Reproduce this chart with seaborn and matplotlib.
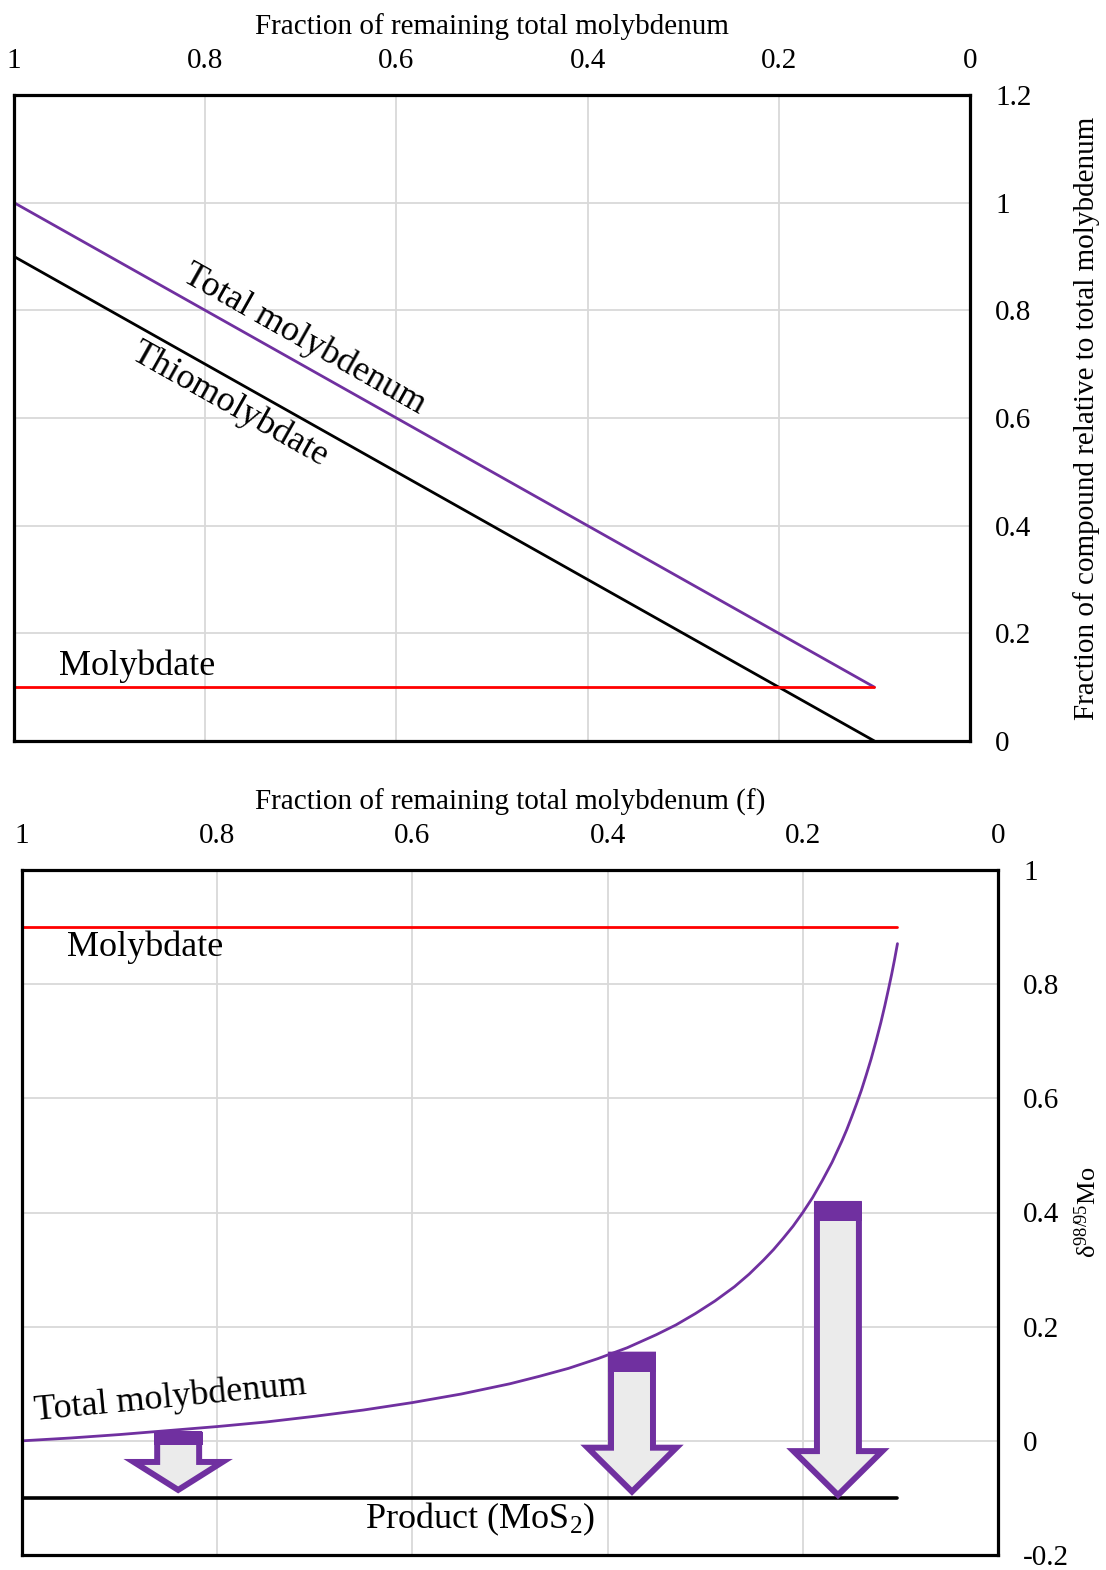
import matplotlib
matplotlib.use("Agg")
import matplotlib.pyplot as plt
import seaborn as sns
from matplotlib.patches import FancyArrow, Rectangle

# ---- top panel: fraction of compound relative to total Mo ----
f_top = [1.0, 0.1]
total_top = [1.0, 0.1]
thio_top = [0.9, 0.0]
molybdate_top = [0.1, 0.1]

# ---- bottom panel: d98/95Mo vs remaining fraction ----
f_curve = [1.0, 0.95, 0.9, 0.85, 0.8, 0.75, 0.7, 0.65, 0.6, 0.55, 0.5, 0.47, 0.44,
           0.41, 0.38, 0.35, 0.33, 0.31, 0.29, 0.27, 0.255, 0.24, 0.23, 0.22, 0.21,
           0.2, 0.19, 0.18, 0.17, 0.16, 0.155, 0.15, 0.145, 0.14, 0.135, 0.13,
           0.125, 0.12, 0.116, 0.112, 0.109, 0.106, 0.103]
delta_total = [0.0, 0.005, 0.011, 0.018, 0.025, 0.033, 0.043, 0.054, 0.067, 0.082,
               0.100, 0.113, 0.127, 0.144, 0.163, 0.186, 0.203, 0.223, 0.245, 0.270,
               0.292, 0.317, 0.335, 0.355, 0.376, 0.400, 0.426, 0.456, 0.488, 0.525,
               0.545, 0.567, 0.590, 0.614, 0.641, 0.669, 0.700, 0.733, 0.762, 0.793,
               0.817, 0.843, 0.871]
f_flat = [1.0, 0.103]
delta_molybdate = [0.9, 0.9]
delta_product = [-0.1, -0.1]

# MoS2 product arrows
arrow_f = [0.84, 0.375, 0.164]
arrow_top = [0.012, 0.151, 0.415]
arrow_tip = [-0.086, -0.089, -0.095]

x_ticks = [1, 0.8, 0.6, 0.4, 0.2, 0]
x_tick_labels = ["1", "0.8", "0.6", "0.4", "0.2", "0"]
top_y_ticks = [0, 0.2, 0.4, 0.6, 0.8, 1.0, 1.2]
top_y_labels = ["0", "0.2", "0.4", "0.6", "0.8", "1", "1.2"]
bot_y_ticks = [-0.2, 0, 0.2, 0.4, 0.6, 0.8, 1.0]
bot_y_labels = ["-0.2", "0", "0.2", "0.4", "0.6", "0.8", "1"]

purple = "#7030A0"
red = "#FF0000"

sns.set_theme(style="whitegrid")
plt.rcParams["font.family"] = ["Liberation Serif", "DejaVu Serif"]
plt.rcParams["text.color"] = "black"
plt.rcParams["mathtext.fontset"] = "custom"
plt.rcParams["mathtext.rm"] = "Liberation Serif"
plt.rcParams["mathtext.it"] = "Liberation Serif:italic"

fig = plt.figure(figsize=(11.06, 15.70), dpi=100)
ax1 = fig.add_axes([14 / 1106, 1 - 741 / 1570, 956 / 1106, 646 / 1570])
ax2 = fig.add_axes([22 / 1106, 15 / 1570, 976 / 1106, 685 / 1570])


def style_axes(ax, yticks, ylabels, xlabel, ylabel, ylim, ypad, ysize):
    ax.set_xlim(1, 0)
    ax.set_ylim(*ylim)
    ax.set_xticks(x_ticks)
    ax.set_xticklabels(x_tick_labels)
    ax.set_yticks(yticks)
    ax.set_yticklabels(ylabels)
    ax.xaxis.tick_top()
    ax.xaxis.set_label_position("top")
    ax.yaxis.tick_right()
    ax.yaxis.set_label_position("right")
    ax.tick_params(length=0, labelsize=21, colors="black")
    ax.tick_params(axis="x", pad=15)
    ax.tick_params(axis="y", pad=18)
    ax.set_xlabel(xlabel, fontsize=21, labelpad=10, color="black")
    ax.set_ylabel(ylabel, fontsize=ysize, labelpad=ypad, color="black")
    ax.grid(True, color="#d9d9d9", lw=1.3)
    for s in ax.spines.values():
        s.set_color("black")
        s.set_linewidth(2.3)
    ax.set_facecolor("white")


# top panel
sns.lineplot(x=f_top, y=total_top, ax=ax1, color=purple, lw=2)
sns.lineplot(x=f_top, y=thio_top, ax=ax1, color="black", lw=2)
sns.lineplot(x=f_top, y=molybdate_top, ax=ax1, color=red, lw=2)
style_axes(ax1, top_y_ticks, top_y_labels,
           "Fraction of remaining total molybdenum",
           "Fraction of compound relative to total molybdenum", (0, 1.2), 30, 21)
ax1.text(0.696, 0.745, "Total molybdenum", fontsize=26, rotation=-29.4,
         ha="center", va="center", rotation_mode="anchor")
ax1.text(0.774, 0.625, "Thiomolybdate", fontsize=26, rotation=-29.4,
         ha="center", va="center", rotation_mode="anchor")
ax1.text(0.871, 0.139, "Molybdate", fontsize=26, ha="center", va="center")

# bottom panel
sns.lineplot(x=f_curve, y=delta_total, ax=ax2, color=purple, lw=2, sort=False)
sns.lineplot(x=f_flat, y=delta_molybdate, ax=ax2, color=red, lw=2)
sns.lineplot(x=f_flat, y=delta_product, ax=ax2, color="black", lw=2.6)
style_axes(ax2, bot_y_ticks, bot_y_labels,
           "Fraction of remaining total molybdenum (f)",
           "δ$^{98/95}$Mo", (-0.2, 1.0), 4, 19)

for f, top, tip in zip(arrow_f, arrow_top, arrow_tip):
    length = top - tip
    head = min(0.077, 0.5 * length)
    ax2.add_patch(FancyArrow(f, top, 0, tip - top, width=0.043, head_width=0.091,
                             head_length=head, length_includes_head=True,
                             fc="#ebebeb", ec=purple, lw=4.3, joinstyle="miter", zorder=3))
    cap = 0.03 if length > 0.15 else 0.02
    ax2.add_patch(Rectangle((f - 0.025, top - cap), 0.05, cap + 0.004,
                            fc=purple, ec="none", zorder=4))

ax2.text(0.874, 0.864, "Molybdate", fontsize=26, ha="center", va="center")
ax2.text(0.848, 0.075, "Total molybdenum", fontsize=26, rotation=5.5,
         ha="center", va="center", rotation_mode="anchor")
ax2.text(0.531, -0.138, "Product (MoS$_2$)", fontsize=26, ha="center", va="center")

fig.savefig("out.png", dpi=100)
